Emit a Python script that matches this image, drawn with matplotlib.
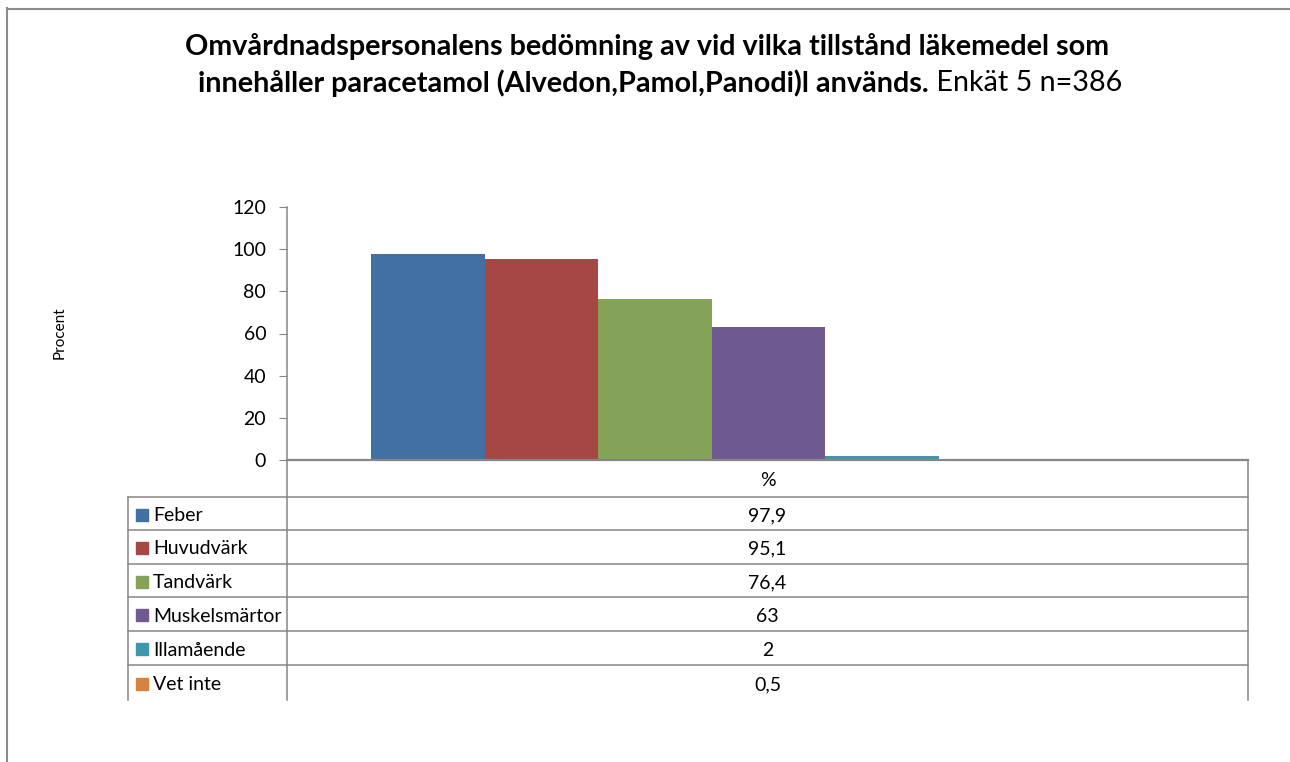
import matplotlib
matplotlib.use('Agg')
import matplotlib.pyplot as plt
from matplotlib.lines import Line2D
from matplotlib.patches import Rectangle

# Data
categories = ['Feber', 'Huvudvärk', 'Tandvärk', 'Muskelsmärtor', 'Illamående', 'Vet inte']
values = [97.9, 95.1, 76.4, 63, 2, 0.5]
colors = ['#4170A5', '#A64744', '#84A356', '#6E5A90', '#3F97AE', '#D8823F']
column_label = '%'
yticks = [0, 20, 40, 60, 80, 100, 120]
title_bold_1 = 'Omvårdnadspersonalens bedömning av vid vilka tillstånd läkemedel som'
title_bold_2 = 'innehåller paracetamol (Alvedon,Pamol,Panodi)l används.'
title_normal_2 = ' Enkät 5 n=386'
ylabel = 'Procent'

W, H = 1290, 762
plt.rcParams['font.family'] = ['Lato', 'DejaVu Sans']
GRAY = '#868686'
FS = 14  # table / tick font size

fig = plt.figure(figsize=(W / 100, H / 100), dpi=100)


# pixel -> figure fraction helpers
def fx(x):
    return x / W


def fy(y):
    return 1 - y / H


def hline(x0, x1, y, lw=1.1, color=GRAY):
    fig.add_artist(Line2D([fx(x0), fx(x1)], [fy(y), fy(y)], color=color, lw=lw,
                          transform=fig.transFigure))


def vline(x, y0, y1, lw=1.1, color=GRAY):
    fig.add_artist(Line2D([fx(x), fx(x)], [fy(y0), fy(y1)], color=color, lw=lw,
                          transform=fig.transFigure))


# outer chart frame (top and left only visible)
hline(7, W, 8.5, lw=1.5, color='#8c8c8c')
vline(7, 8, H, lw=1.5, color='#8c8c8c')

# plot area
left, right, top, bottom = 287, 1248, 207, 460
ax = fig.add_axes([fx(left), fy(bottom), fx(right) - fx(left), fy(top) - fy(bottom)])
bar_w = 113.5 / (right - left)
start = 84 / (right - left)
for i, (v, c) in enumerate(zip(values, colors)):
    ax.bar(start + (i + 0.5) * bar_w, v, width=bar_w, color=c, zorder=2)
ax.set_xlim(0, 1)
ax.set_ylim(0, 120)
ax.set_yticks(yticks)
ax.set_xticks([])
for s in ['top', 'right']:
    ax.spines[s].set_visible(False)
ax.spines['left'].set_color(GRAY)
ax.spines['left'].set_linewidth(1.1)
ax.spines['bottom'].set_color(GRAY)
ax.spines['bottom'].set_linewidth(1.6)
ax.tick_params(axis='y', length=6, color=GRAY, labelsize=FS, pad=9)

fig.text(fx(60), fy(333), ylabel, rotation=90, ha='center', va='center', fontsize=11)

# data table below the axis
row_top = [460, 497, 530, 564, 597, 631, 665]
table_bottom = 700
for y in row_top[1:]:
    hline(128, right, y)
vline(left, bottom, table_bottom)
vline(right, bottom, table_bottom)
vline(128, row_top[1], table_bottom)

fig.text(fx((left + right) / 2), fy((row_top[0] + row_top[1]) / 2 + 2), column_label,
         ha='center', va='center', fontsize=FS)
row_bottoms = row_top[2:] + [table_bottom]
for i, (cat, v, c) in enumerate(zip(categories, values, colors)):
    yc = (row_top[i + 1] + row_bottoms[i]) / 2
    fig.add_artist(Rectangle((fx(136), fy(yc + 7)), fx(12), 12 / H, color=c,
                             transform=fig.transFigure))
    fig.text(fx(153), fy(yc + 2), cat, ha='left', va='center', fontsize=FS)
    label = ('%g' % v).replace('.', ',')
    fig.text(fx((left + right) / 2), fy(yc + 2), label, ha='center', va='center', fontsize=FS)

# title: two lines, second line mixes bold and normal
TS = 20.7
fig.text(fx(647), fy(46), title_bold_1, ha='center', va='center', fontsize=TS,
         fontweight='bold')
r = fig.canvas.get_renderer()
t_b = fig.text(0, fy(83), title_bold_2, ha='left', va='center', fontsize=TS,
               fontweight='bold')
t_n = fig.text(0, fy(83), title_normal_2, ha='left', va='center', fontsize=TS)
wb = t_b.get_window_extent(r).width
wn = t_n.get_window_extent(r).width
x0 = 660 - (wb + wn) / 2
t_b.set_x(fx(x0))
t_n.set_x(fx(x0 + wb))

fig.savefig('out.png', dpi=100)
